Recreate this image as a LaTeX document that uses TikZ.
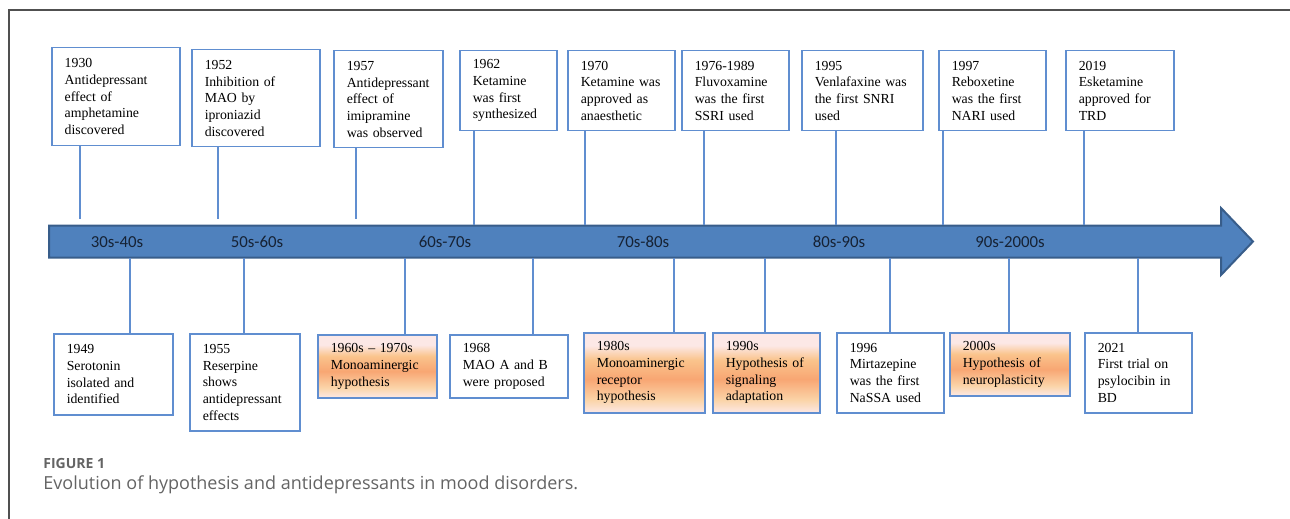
\documentclass[tikz,border=0pt]{standalone}
\usepackage{fontspec}
\setmainfont{Liberation Serif}
\newfontfamily\erafont{Carlito}
\newfontfamily\capfont{Open Sans}
\definecolor{boxblue}{RGB}{96,142,208}
\definecolor{arrowfill}{RGB}{79,129,189}
\definecolor{arrowedge}{RGB}{56,93,138}
\definecolor{eraink}{RGB}{22,34,52}
\definecolor{framegray}{RGB}{80,80,80}
\definecolor{capgray}{RGB}{100,100,100}
\definecolor{peachpale}{RGB}{252,232,230}
\definecolor{peachlight}{RGB}{251,212,168}
\definecolor{peachmid}{RGB}{248,166,115}
\definecolor{peachwarm}{RGB}{250,196,140}
\pgfdeclareverticalshading{sunset}{100bp}{color(0bp)=(peachpale); color(25bp)=(peachpale); color(33bp)=(peachlight); color(46bp)=(peachmid); color(58bp)=(peachwarm); color(67bp)=(peachpale); color(75bp)=(peachpale); color(100bp)=(peachpale)}
\tikzset{evbox/.style={draw=boxblue, line width=0.75pt, anchor=north west, align=left, inner xsep=6.5pt, inner ysep=2pt, font=\fontsize{6.9}{8.35}\selectfont},
hybox/.style={evbox, shade, shading=sunset},
stem/.style={draw=boxblue, line width=0.7pt},
era/.style={font=\erafont\fontsize{8.4}{10}\selectfont, text=eraink, inner sep=0pt}}

\begin{document}
\begin{tikzpicture}[x=0.5pt,y=-0.5pt]
\useasboundingbox (0,0) rectangle (1290,519);
\draw[framegray, line width=0.8pt] (9,519) -- (9,10) -- (1290,10);
% timeline arrow
\draw[fill=arrowfill, draw=arrowedge, line width=1pt] (49,225.5) -- (1221,225.5) -- (1221,208) -- (1253,241.5) -- (1221,275) -- (1221,257.5) -- (49,257.5) -- cycle;
\node[era] (d30) at (117,242) {30s-40s};
\node[era] (d50) at (257,242) {50s-60s};
\node[era] (d60) at (445,242) {60s-70s};
\node[era] (d70) at (643,242) {70s-80s};
\node[era] (d80) at (839,242) {80s-90s};
\node[era] (d90) at (1010,242) {90s-2000s};
% events above
\node[evbox, minimum width=64pt, minimum height=49pt, text width=51pt] (e1930) at (51,47) {1930\\Antidepressant\\effect of\\amphetamine\\discovered};
\node[evbox, minimum width=64pt, minimum height=48.5pt, text width=51pt] (e1952) at (191,49) {1952\\Inhibition of\\MAO by\\iproniazid\\discovered};
\node[evbox, minimum width=54.5pt, minimum height=48.5pt, text width=41.5pt] (e1957) at (333,50) {1957\\Antidepressant\\effect of\\imipramine\\was observed};
\node[evbox, minimum width=48.5pt, minimum height=40pt, text width=35.5pt] (e1962) at (459,50) {1962\\Ketamine\\was first\\synthesized};
\node[evbox, minimum width=53.5pt, minimum height=40pt, text width=40.5pt] (e1970) at (567,50) {1970\\Ketamine was\\approved as\\anaesthetic};
\node[evbox, minimum width=53.5pt, minimum height=40pt, text width=40.5pt] (e1976) at (681,50) {1976-1989\\Fluvoxamine\\was the first\\SSRI used};
\node[evbox, minimum width=60.5pt, minimum height=40pt, text width=47.5pt] (e1995) at (801,50) {1995\\Venlafaxine was\\the first SNRI\\used};
\node[evbox, minimum width=53.5pt, minimum height=40pt, text width=40.5pt] (e1997) at (938,50) {1997\\Reboxetine\\was the first\\NARI used};
\node[evbox, minimum width=54pt, minimum height=40pt, text width=41pt] (e2019) at (1065,50) {2019\\Esketamine\\approved for\\TRD};
% events below
\node[evbox, minimum width=59.5pt, minimum height=40.5pt, text width=46.5pt] (e1949) at (53,333) {1949\\Serotonin\\isolated and\\identified};
\node[evbox, minimum width=55pt, minimum height=48.5pt, text width=42pt] (e1955) at (189,333) {1955\\Reserpine\\shows\\antidepressant\\effects};
\node[hybox, minimum width=59.5pt, minimum height=31.5pt, text width=46.5pt] (h1960) at (317,334) {1960s -- 1970s\\Monoaminergic\\hypothesis};
\node[evbox, minimum width=59pt, minimum height=31.5pt, text width=46pt] (e1968) at (449,334) {1968\\MAO A and B\\were proposed};
\node[hybox, minimum width=60.5pt, minimum height=40pt, text width=47.5pt] (h1980) at (583,332) {1980s\\Monoaminergic\\receptor\\hypothesis};
\node[hybox, minimum width=53.5pt, minimum height=40pt, text width=40.5pt] (h1990) at (712,332) {1990s\\Hypothesis of\\signaling\\adaptation};
\node[evbox, minimum width=53.5pt, minimum height=40pt, text width=40.5pt] (e1996) at (836,332) {1996\\Mirtazepine\\was the first\\NaSSA used};
\node[hybox, minimum width=60pt, minimum height=31.5pt, text width=47pt] (h2000) at (949,332) {2000s\\Hypothesis of\\neuroplasticity};
\node[evbox, minimum width=53.5pt, minimum height=40pt, text width=40.5pt] (e2021) at (1084,332) {2021\\First trial on\\psylocibin in\\BD};
% stems to the arrow
\coordinate (a1930) at (80,219);
\coordinate (a1952) at (218,219);
\coordinate (a1957) at (356,219);
\coordinate (a1962) at (474,225);
\coordinate (a1970) at (585,225);
\coordinate (a1976) at (704,225);
\coordinate (a1995) at (836,225);
\coordinate (a1997) at (943,225);
\coordinate (a2019) at (1084,225);
\draw[stem] (e1930.south -| a1930) -- (a1930);
\draw[stem] (e1952.south -| a1952) -- (a1952);
\draw[stem] (e1957.south -| a1957) -- (a1957);
\draw[stem] (e1962.south -| a1962) -- (a1962);
\draw[stem] (e1970.south -| a1970) -- (a1970);
\draw[stem] (e1976.south -| a1976) -- (a1976);
\draw[stem] (e1995.south -| a1995) -- (a1995);
\draw[stem] (e1997.south -| a1997) -- (a1997);
\draw[stem] (e2019.south -| a2019) -- (a2019);
\coordinate (b1949) at (130,258);
\coordinate (b1955) at (244,258);
\coordinate (b1960) at (405,258);
\coordinate (b1968) at (533,258);
\coordinate (b1980) at (674,258);
\coordinate (b1990) at (765,258);
\coordinate (b1996) at (890,258);
\coordinate (b2000) at (1009,258);
\coordinate (b2021) at (1138,258);
\draw[stem] (b1949) -- (b1949 |- e1949.north);
\draw[stem] (b1955) -- (b1955 |- e1955.north);
\draw[stem] (b1960) -- (b1960 |- h1960.north);
\draw[stem] (b1968) -- (b1968 |- e1968.north);
\draw[stem] (b1980) -- (b1980 |- h1980.north);
\draw[stem] (b1990) -- (b1990 |- h1990.north);
\draw[stem] (b1996) -- (b1996 |- e1996.north);
\draw[stem] (b2000) -- (b2000 |- h2000.north);
\draw[stem] (b2021) -- (b2021 |- e2021.north);
% caption
\node[anchor=base west, inner sep=0pt, text=capgray, font=\capfont\bfseries\fontsize{7}{8}\selectfont] (fig) at (43,468) {FIGURE 1};
\node[anchor=base west, inner sep=0pt, text=capgray, font=\capfont\fontsize{9}{11}\selectfont] (cap) at (43,489) {Evolution of hypothesis and antidepressants in mood disorders.};
\end{tikzpicture}
\end{document}
